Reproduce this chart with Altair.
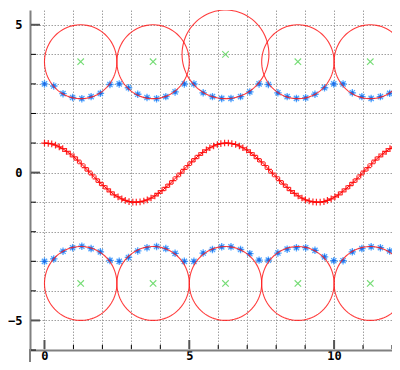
import altair as alt
import pandas as pd
import numpy as np

# ---- data ----
cos_x = [0.00, 0.13, 0.25, 0.38, 0.51, 0.63, 0.76, 0.89, 1.02, 1.14,
         1.27, 1.40, 1.52, 1.65, 1.78, 1.90, 2.03, 2.16, 2.28, 2.41,
         2.54, 2.67, 2.79, 2.92, 3.05, 3.17, 3.30, 3.43, 3.55, 3.68,
         3.81, 3.93, 4.06, 4.19, 4.32, 4.44, 4.57, 4.70, 4.82, 4.95,
         5.08, 5.20, 5.33, 5.46, 5.59, 5.71, 5.84, 5.97, 6.09, 6.22,
         6.35, 6.47, 6.60, 6.73, 6.85, 6.98, 7.11, 7.24, 7.36, 7.49,
         7.62, 7.74, 7.87, 8.00, 8.12, 8.25, 8.38, 8.50, 8.63, 8.76,
         8.89, 9.01, 9.14, 9.27, 9.39, 9.52, 9.65, 9.77, 9.90, 10.03,
         10.15, 10.28, 10.41, 10.54, 10.66, 10.79, 10.92, 11.04, 11.17, 11.30,
         11.42, 11.55, 11.68, 11.80, 11.93, 12.06, 12.19, 12.31, 12.44, 12.57]
cos_y = [1.00, 0.99, 0.97, 0.93, 0.87, 0.81, 0.72, 0.63, 0.53, 0.42,
         0.30, 0.17, 0.05, -0.08, -0.21, -0.33, -0.44, -0.55, -0.65, -0.75,
         -0.82, -0.89, -0.94, -0.98, -1.00, -1.00, -0.99, -0.96, -0.92, -0.86,
         -0.79, -0.70, -0.61, -0.50, -0.39, -0.27, -0.14, -0.02, 0.11, 0.24,
         0.36, 0.47, 0.58, 0.68, 0.77, 0.84, 0.90, 0.95, 0.98, 1.00,
         1.00, 0.98, 0.95, 0.90, 0.84, 0.77, 0.68, 0.58, 0.47, 0.36,
         0.24, 0.11, -0.02, -0.14, -0.27, -0.39, -0.50, -0.61, -0.70, -0.79,
         -0.86, -0.92, -0.96, -0.99, -1.00, -1.00, -0.98, -0.94, -0.89, -0.82,
         -0.75, -0.65, -0.55, -0.44, -0.33, -0.21, -0.08, 0.05, 0.17, 0.30,
         0.42, 0.53, 0.63, 0.72, 0.81, 0.87, 0.93, 0.97, 0.99, 1.00]

star_x = [0.00, 0.32, 0.64, 0.97, 1.29, 1.61, 1.93, 2.26, 2.58, 2.90,
          3.22, 3.54, 3.87, 4.19, 4.51, 4.83, 5.16, 5.48, 5.80, 6.12,
          6.44, 6.77, 7.09, 7.41, 7.73, 8.06, 8.38, 8.70, 9.02, 9.34,
          9.67, 9.99, 10.31, 10.63, 10.96, 11.28, 11.60, 11.92, 12.24, 12.57]
star_top_y = [3.00, 2.93, 2.67, 2.54, 2.50, 2.57, 2.68, 2.98, 3.00, 2.87,
              2.65, 2.54, 2.50, 2.57, 2.73, 3.00, 3.00, 2.70, 2.57, 2.51,
              2.51, 2.57, 2.73, 3.00, 2.98, 2.70, 2.57, 2.51, 2.53, 2.65,
              2.87, 3.00, 3.00, 2.70, 2.57, 2.51, 2.57, 2.68, 2.90, 3.00]
star_bot_y = [-3.00, -2.92, -2.66, -2.54, -2.49, -2.57, -2.68, -2.97, -3.00, -2.87,
              -2.65, -2.54, -2.50, -2.57, -2.73, -3.00, -3.00, -2.72, -2.60, -2.51,
              -2.51, -2.60, -2.74, -2.96, -2.96, -2.72, -2.59, -2.54, -2.54, -2.63,
              -2.85, -2.98, -2.98, -2.68, -2.57, -2.51, -2.54, -2.65, -2.91, -3.00]

circle_cx = [1.25, 3.75, 6.25, 8.75, 11.25, 1.25, 3.75, 6.25, 8.75, 11.25]
circle_cy = [3.75, 3.75, 4.00, 3.75, 3.75, -3.75, -3.75, -3.75, -3.75, -3.75]
circle_r = [1.25, 1.25, 1.50, 1.25, 1.25, 1.25, 1.25, 1.25, 1.25, 1.25]

x_ticks = [0, 1, 2, 3, 4, 5, 6, 7, 8, 9, 10, 11, 12]
y_ticks = [-6, -5, -4, -3, -2, -1, 0, 1, 2, 3, 4, 5]
major_x = [0, 5, 10]
major_y = [-5, 0, 5]

# ---- tables ----
cos_df = pd.DataFrame({"x": cos_x, "y": cos_y})
star_df = pd.DataFrame({"x": star_x + star_x, "y": star_top_y + star_bot_y})
ang = np.deg2rad(np.arange(0, 361, 4))
rows = []
for i, (cx, cy, r) in enumerate(zip(circle_cx, circle_cy, circle_r)):
    for j, a in enumerate(ang):
        rows.append({"c": i, "o": j, "x": cx + r * np.cos(a), "y": cy + r * np.sin(a)})
circ_df = pd.DataFrame(rows)
cent_df = pd.DataFrame({"x": circle_cx, "y": circle_cy})
xt_df = pd.DataFrame({"x": x_ticks, "major": [v in major_x for v in x_ticks]})
yt_df = pd.DataFrame({"y": y_ticks, "major": [v in major_y for v in y_ticks]})

W, H = 362, 340
xs = alt.Scale(domain=[-0.5, 12.0], nice=False, zero=False)
ys = alt.Scale(domain=[-6, 5.5], nice=False, zero=False)

FONT = "DejaVu Sans Mono"
lab = "datum.value % 5 === 0 ? datum.label : ''"
common = dict(grid=True, labelExpr=lab, tickSize=0, format="d",
              domainColor="#808080", domainWidth=2, labelFont=FONT,
              labelFontWeight="bold", labelFontSize=12, labelColor="#000",
              labelOverlap=False, title=None,
              gridColor="#a0a0a0", gridDash=[1.5, 1.5], gridWidth=1)
x_axis = alt.Axis(values=x_ticks, labelPadding=0, **common)
y_axis = alt.Axis(values=y_ticks, labelPadding=8, **common)

X = alt.X("x:Q", scale=xs, axis=x_axis)
Y = alt.Y("y:Q", scale=ys, axis=y_axis)

STAR = "M-1,0L1,0M0,-1L0,1M-0.7,-0.7L0.7,0.7M-0.7,0.7L0.7,-0.7"
PLUS = "M-1,0L1,0M0,-1L0,1"
XMARK = "M-1,-1L1,1M-1,1L1,-1"

stars = alt.Chart(star_df).mark_point(shape=STAR, size=56, filled=False, color="#3d9bff",
                                      strokeWidth=1.3, opacity=0.9, clip=True).encode(x=X, y=Y)
star_core = alt.Chart(star_df).mark_point(shape=PLUS, size=16, filled=False, color="#0a50d8",
                                          strokeWidth=1.2, clip=True).encode(x=X, y=Y)

circles = alt.Chart(circ_df).mark_line(color="#ff1a1a", strokeWidth=1.1, opacity=0.85,
                                       clip=True).encode(x=X, y=Y, detail="c:N", order="o:Q")

centers = alt.Chart(cent_df).mark_point(shape=XMARK, size=42, filled=False, color="#3ccf3c",
                                        strokeWidth=1.1, clip=True).encode(x=X, y=Y)

cos_line = alt.Chart(cos_df).mark_line(color="#ff0000", strokeWidth=1, clip=True).encode(x=X, y=Y)
cos_pts = alt.Chart(cos_df).mark_point(shape=PLUS, size=44, filled=False, color="#ff0000",
                                       strokeWidth=1.2, opacity=0.85, clip=True).encode(x=X, y=Y)

# inward tick marks
xt_minor = alt.Chart(xt_df).transform_filter("!datum.major").mark_rule(color="#000", strokeWidth=1).encode(
    x=X, y=alt.value(H - 1), y2=alt.value(H - 5))
xt_major = alt.Chart(xt_df).transform_filter("datum.major").mark_rule(color="#555", strokeWidth=2).encode(
    x=X, y=alt.value(H - 1), y2=alt.value(H - 10))
yt_minor = alt.Chart(yt_df).transform_filter("!datum.major").mark_rule(color="#000", strokeWidth=1).encode(
    y=Y, x=alt.value(1), x2=alt.value(6))
yt_major = alt.Chart(yt_df).transform_filter("datum.major").mark_rule(color="#555", strokeWidth=2).encode(
    y=Y, x=alt.value(1), x2=alt.value(10))
# left axis line continues below the x axis
yext = alt.Chart(pd.DataFrame({"a": [0]})).mark_rule(color="#808080", strokeWidth=2).encode(
    x=alt.value(0), y=alt.value(H - 1), y2=alt.value(H + 14))

chart = alt.layer(
    stars, star_core, circles, centers, cos_line, cos_pts,
    xt_minor, xt_major, yt_minor, yt_major, yext,
).properties(
    width=W, height=H,
    autosize=alt.AutoSizeParams(type="none"),
    padding={"left": 22, "top": 2, "right": 0, "bottom": 12},
    background="white",
).configure_view(stroke=None)

chart.save("out.html", embed_options={"renderer": "svg", "actions": False})
